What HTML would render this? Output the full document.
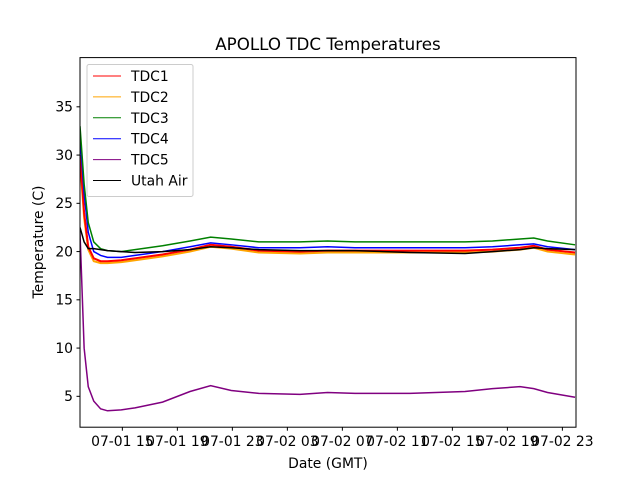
<!DOCTYPE html>
<html><head><meta charset="utf-8"><style>
body{margin:0;background:#fff;}
svg text{font-family:"DejaVu Sans","Liberation Sans",sans-serif;fill:#000;}
</style></head><body>
<svg id="chart" width="640" height="480" xmlns="http://www.w3.org/2000/svg">
<rect width="640" height="480" fill="#fff"/>
<text x="328" y="50" font-size="16.7" text-anchor="middle">APOLLO TDC Temperatures</text>
<text x="328" y="468" font-size="13.9" text-anchor="middle">Date (GMT)</text>
<text transform="translate(43,242) rotate(-90)" font-size="13.9" text-anchor="middle">Temperature (C)</text>
<g id="plot"></g>
<g id="axes"></g>
<g id="legend"></g>
</svg>
<script>
const times=[0,0.3,0.6,1,1.5,2,3,4,6,8,9.5,11,13,16,18,20,24,28,30,32,33,34,36];
const tdc1=[30,24,20.5,19.3,19.0,19.0,19.1,19.3,19.7,20.2,20.7,20.5,20.1,20.0,20.1,20.1,20.1,20.1,20.2,20.4,20.6,20.2,19.9];
const tdc2=[29.5,23.5,20.2,19.0,18.8,18.8,18.9,19.1,19.5,20.0,20.5,20.3,19.9,19.8,19.9,19.9,19.9,19.9,20.0,20.2,20.4,20.0,19.7];
const tdc3=[33,27,23,21,20.3,20.1,20.0,20.2,20.6,21.1,21.5,21.3,21.0,21.0,21.1,21.0,21.0,21.0,21.1,21.3,21.4,21.1,20.7];
const tdc4=[32,26,22,20,19.6,19.4,19.4,19.6,20.0,20.5,20.9,20.7,20.4,20.4,20.5,20.4,20.4,20.4,20.5,20.7,20.8,20.5,20.2];
const tdc5=[22,10,6,4.5,3.7,3.5,3.6,3.8,4.4,5.5,6.1,5.6,5.3,5.2,5.4,5.3,5.3,5.5,5.8,6.0,5.8,5.4,4.9];
const utahAir=[22.5,21,20.3,20.3,20.2,20.1,20.0,19.9,20.0,20.2,20.5,20.4,20.2,20.1,20.1,20.1,19.9,19.8,20.0,20.2,20.4,20.3,20.2];
const seriesNames=["TDC1","TDC2","TDC3","TDC4","TDC5","Utah Air"];
const yTicks=[5,10,15,20,25,30,35];
const xTickHours=[3.08,7.08,11.08,15.08,19.08,23.08,27.08,31.08,35.08];
const xTickLabels=["07-01 15","07-01 19","07-01 23","07-02 03","07-02 07","07-02 11","07-02 15","07-02 19","07-02 23"];
</script>
<script>
const NS="http://www.w3.org/2000/svg";
const L=80,R=576,T=57.6,B=427.2,X0=0,X1=36.07,Y0=1.8,Y1=40.1;
const xs=h=>L+(h-X0)/(X1-X0)*(R-L);
const ys=v=>B-(v-Y0)/(Y1-Y0)*(B-T);
function mk(tag,attrs,parent){const e=document.createElementNS(NS,tag);for(const k in attrs)e.setAttribute(k,attrs[k]);parent.appendChild(e);return e;}
const plot=document.getElementById('plot'),axes=document.getElementById('axes'),leg=document.getElementById('legend');
const cp=mk('clipPath',{id:'clip'},plot);mk('rect',{x:L,y:T,width:R-L,height:B-T},cp);
const data=[tdc1,tdc2,tdc3,tdc4,tdc5,utahAir];
const colors=["#ff0000","#ffa500","#008000","#0000ff","#800080","#000000"];
const order=[1,0,3,2,4,5];
order.forEach(i=>{
  const d=times.map((t,j)=>(j?'L':'M')+xs(t).toFixed(2)+','+ys(data[i][j]).toFixed(2)).join('');
  const p=mk('path',{d:d,fill:'none',stroke:colors[i],'stroke-width':i==1||i==0?2:1.5,'clip-path':'url(#clip)'},plot);
  
  
});
const frame=mk('rect',{x:L,y:T,width:R-L,height:B-T,fill:'none',stroke:'#000','stroke-width':1},axes);


yTicks.forEach(v=>{
  const y=ys(v);
  mk('line',{x1:L-3.5,x2:L,y1:y,y2:y,stroke:'#000'},axes);
  const t=mk('text',{x:L-7,y:y+4.8,'font-size':13.9,'text-anchor':'end'},axes);t.textContent=v;
  
  
});
xTickHours.forEach((h,i)=>{
  const x=xs(h);
  mk('line',{x1:x,x2:x,y1:B,y2:B+3.5,stroke:'#000'},axes);
  const t=mk('text',{x:x,y:B+19,'font-size':13.9,'text-anchor':'middle'},axes);t.textContent=xTickLabels[i];
  
  
});
const box=mk('rect',{x:87,y:64.5,width:106,height:132,rx:2,fill:'#fff','fill-opacity':0.8,stroke:'#ccc'},leg);


seriesNames.forEach((n,i)=>{
  const y=76+i*20.9;
  mk('line',{x1:93,x2:121,y1:y,y2:y,stroke:colors[i],'stroke-width':1},leg);
  const t=mk('text',{x:131,y:y+5,'font-size':13.9},leg);t.textContent=n;
  
  
});
</script>
</body></html>
